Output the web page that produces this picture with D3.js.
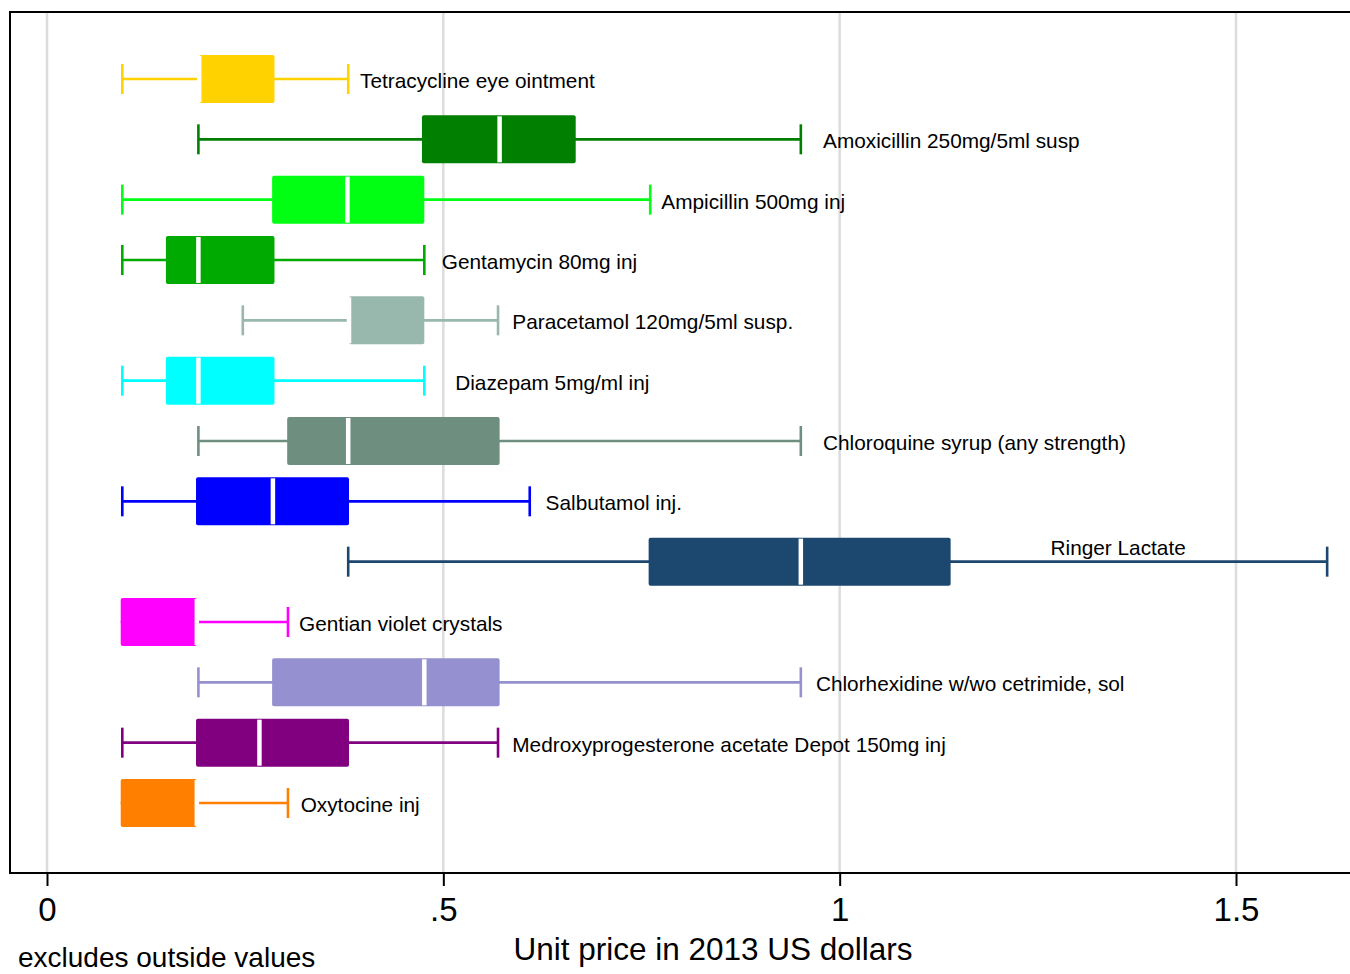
<!DOCTYPE html>
<html>
<head>
<meta charset="utf-8">
<script src="https://cdn.jsdelivr.net/npm/d3@7"></script>
<style>
  html, body { margin: 0; padding: 0; background: #fff; }
  svg { display: block; font-family: "Liberation Sans", Arial, Helvetica, sans-serif; }
</style>
</head>
<body>
<svg id="chart" width="1350" height="974"></svg>
<script>
// Medicines, listed top to bottom
const medicines = [
  "Tetracycline eye ointment",
  "Amoxicillin 250mg/5ml susp",
  "Ampicillin 500mg inj",
  "Gentamycin 80mg inj",
  "Paracetamol 120mg/5ml susp.",
  "Diazepam 5mg/ml inj",
  "Chloroquine syrup (any strength)",
  "Salbutamol inj.",
  "Ringer Lactate",
  "Gentian violet crystals",
  "Chlorhexidine w/wo cetrimide, sol",
  "Medroxyprogesterone acetate Depot 150mg inj",
  "Oxytocine inj"
];

// Box-plot statistics, unit price in 2013 US dollars (outside values excluded)
const lowerAdjacent = [0.095, 0.191, 0.095, 0.095, 0.247, 0.095, 0.191, 0.095, 0.380, 0.093, 0.191, 0.095, 0.093];
const lowerQuartile = [0.192, 0.473, 0.284, 0.150, 0.381, 0.150, 0.303, 0.188, 0.759, 0.093, 0.284, 0.188, 0.093];
const medianPrice   = [0.192, 0.571, 0.379, 0.191, 0.381, 0.191, 0.380, 0.285, 0.951, 0.189, 0.476, 0.268, 0.189];
const upperQuartile = [0.287, 0.667, 0.476, 0.287, 0.476, 0.287, 0.571, 0.381, 1.140, 0.189, 0.571, 0.381, 0.189];
const upperAdjacent = [0.380, 0.951, 0.761, 0.476, 0.569, 0.476, 0.951, 0.609, 1.615, 0.304, 0.951, 0.569, 0.304];

// Where each medicine's name is written, on the price axis
const labelAt = [0.395, 0.979, 0.775, 0.498, 0.587, 0.515, 0.979, 0.629, 1.266, 0.318, 0.970, 0.587, 0.320];

const boxColors = ["#ffd200", "#007f00", "#00ff13", "#00aa00", "#98b8ae", "#00ffff", "#6e8e80",
                   "#0000ff", "#1c476f", "#ff00ff", "#9590d0", "#800080", "#ff8000"];

const xTicks = [0, 0.5, 1, 1.5];
const xTickLabels = ["0", ".5", "1", "1.5"];

const rows = medicines.map((name, i) => ({
  name, lo: lowerAdjacent[i], q1: lowerQuartile[i], med: medianPrice[i],
  q3: upperQuartile[i], hi: upperAdjacent[i], lab: labelAt[i], color: boxColors[i]
}));

const svg = d3.select("#chart");
const plot = { left: 10, top: 12, right: 1352, bottom: 873 };

const x = d3.scaleLinear().domain([0, 1.5]).range([47, 1236]);
const y = d3.scalePoint().domain(medicines).range([79, 803]);
const boxH = 48, capH = 30;

// Grid lines
svg.append("g").selectAll("line").data(xTicks).join("line")
  .attr("x1", d => x(d)).attr("x2", d => x(d))
  .attr("y1", plot.top).attr("y2", plot.bottom)
  .attr("stroke", "#dcdcdc").attr("stroke-width", 2.5);

// Plot frame (left, top, bottom)
svg.append("path")
  .attr("d", `M${plot.right},${plot.top}H${plot.left}V${plot.bottom}H${plot.right}`)
  .attr("fill", "none").attr("stroke", "#000").attr("stroke-width", 2);

// X axis ticks and labels
const xAxis = d3.axisBottom(x).tickValues(xTicks)
  .tickFormat((d, i) => xTickLabels[i]).tickSize(13).tickPadding(12);
const ax = svg.append("g").attr("transform", `translate(0,${plot.bottom})`).call(xAxis);
ax.select(".domain").remove();
ax.selectAll(".tick line").attr("stroke", "#000").attr("stroke-width", 2);
ax.selectAll(".tick text").attr("fill", "#000").style("font-size", "33px")
  .style("font-family", "'Liberation Sans', Arial, sans-serif");

svg.append("text").attr("x", 713).attr("y", 960).attr("text-anchor", "middle")
  .style("font-size", "31.5px").text("Unit price in 2013 US dollars");
svg.append("text").attr("x", 18).attr("y", 967)
  .style("font-size", "28px").text("excludes outside values");

// Boxes
const g = svg.append("g").selectAll("g").data(rows).join("g")
  .attr("transform", d => `translate(0,${y(d.name)})`);

// whisker line
g.append("line")
  .attr("x1", d => x(d.lo)).attr("x2", d => x(d.hi))
  .attr("stroke", d => d.color).attr("stroke-width", 2.6);
// whisker caps (only where a whisker extends beyond the box)
g.filter(d => d.lo < d.q1).append("line")
  .attr("x1", d => x(d.lo)).attr("x2", d => x(d.lo))
  .attr("y1", -capH / 2).attr("y2", capH / 2)
  .attr("stroke", d => d.color).attr("stroke-width", 2.6);
g.filter(d => d.hi > d.q3).append("line")
  .attr("x1", d => x(d.hi)).attr("x2", d => x(d.hi))
  .attr("y1", -capH / 2).attr("y2", capH / 2)
  .attr("stroke", d => d.color).attr("stroke-width", 2.6);
// box
g.append("rect")
  .attr("x", d => x(d.q1)).attr("width", d => Math.max(0, x(d.q3) - x(d.q1)))
  .attr("y", -boxH / 2).attr("height", boxH).attr("rx", 2)
  .attr("fill", d => d.color);
// median
g.append("line")
  .attr("x1", d => x(d.med)).attr("x2", d => x(d.med))
  .attr("y1", -boxH / 2 + 1).attr("y2", boxH / 2 - 1)
  .attr("stroke", "#fff").attr("stroke-width", 4.5);
// name labels
g.append("text")
  .attr("x", d => x(d.lab))
  .attr("y", d => d.name === "Ringer Lactate" ? -7 : 9)
  .style("font-size", "20.8px").attr("fill", "#000")
  .text(d => d.name);
</script>
</body>
</html>
